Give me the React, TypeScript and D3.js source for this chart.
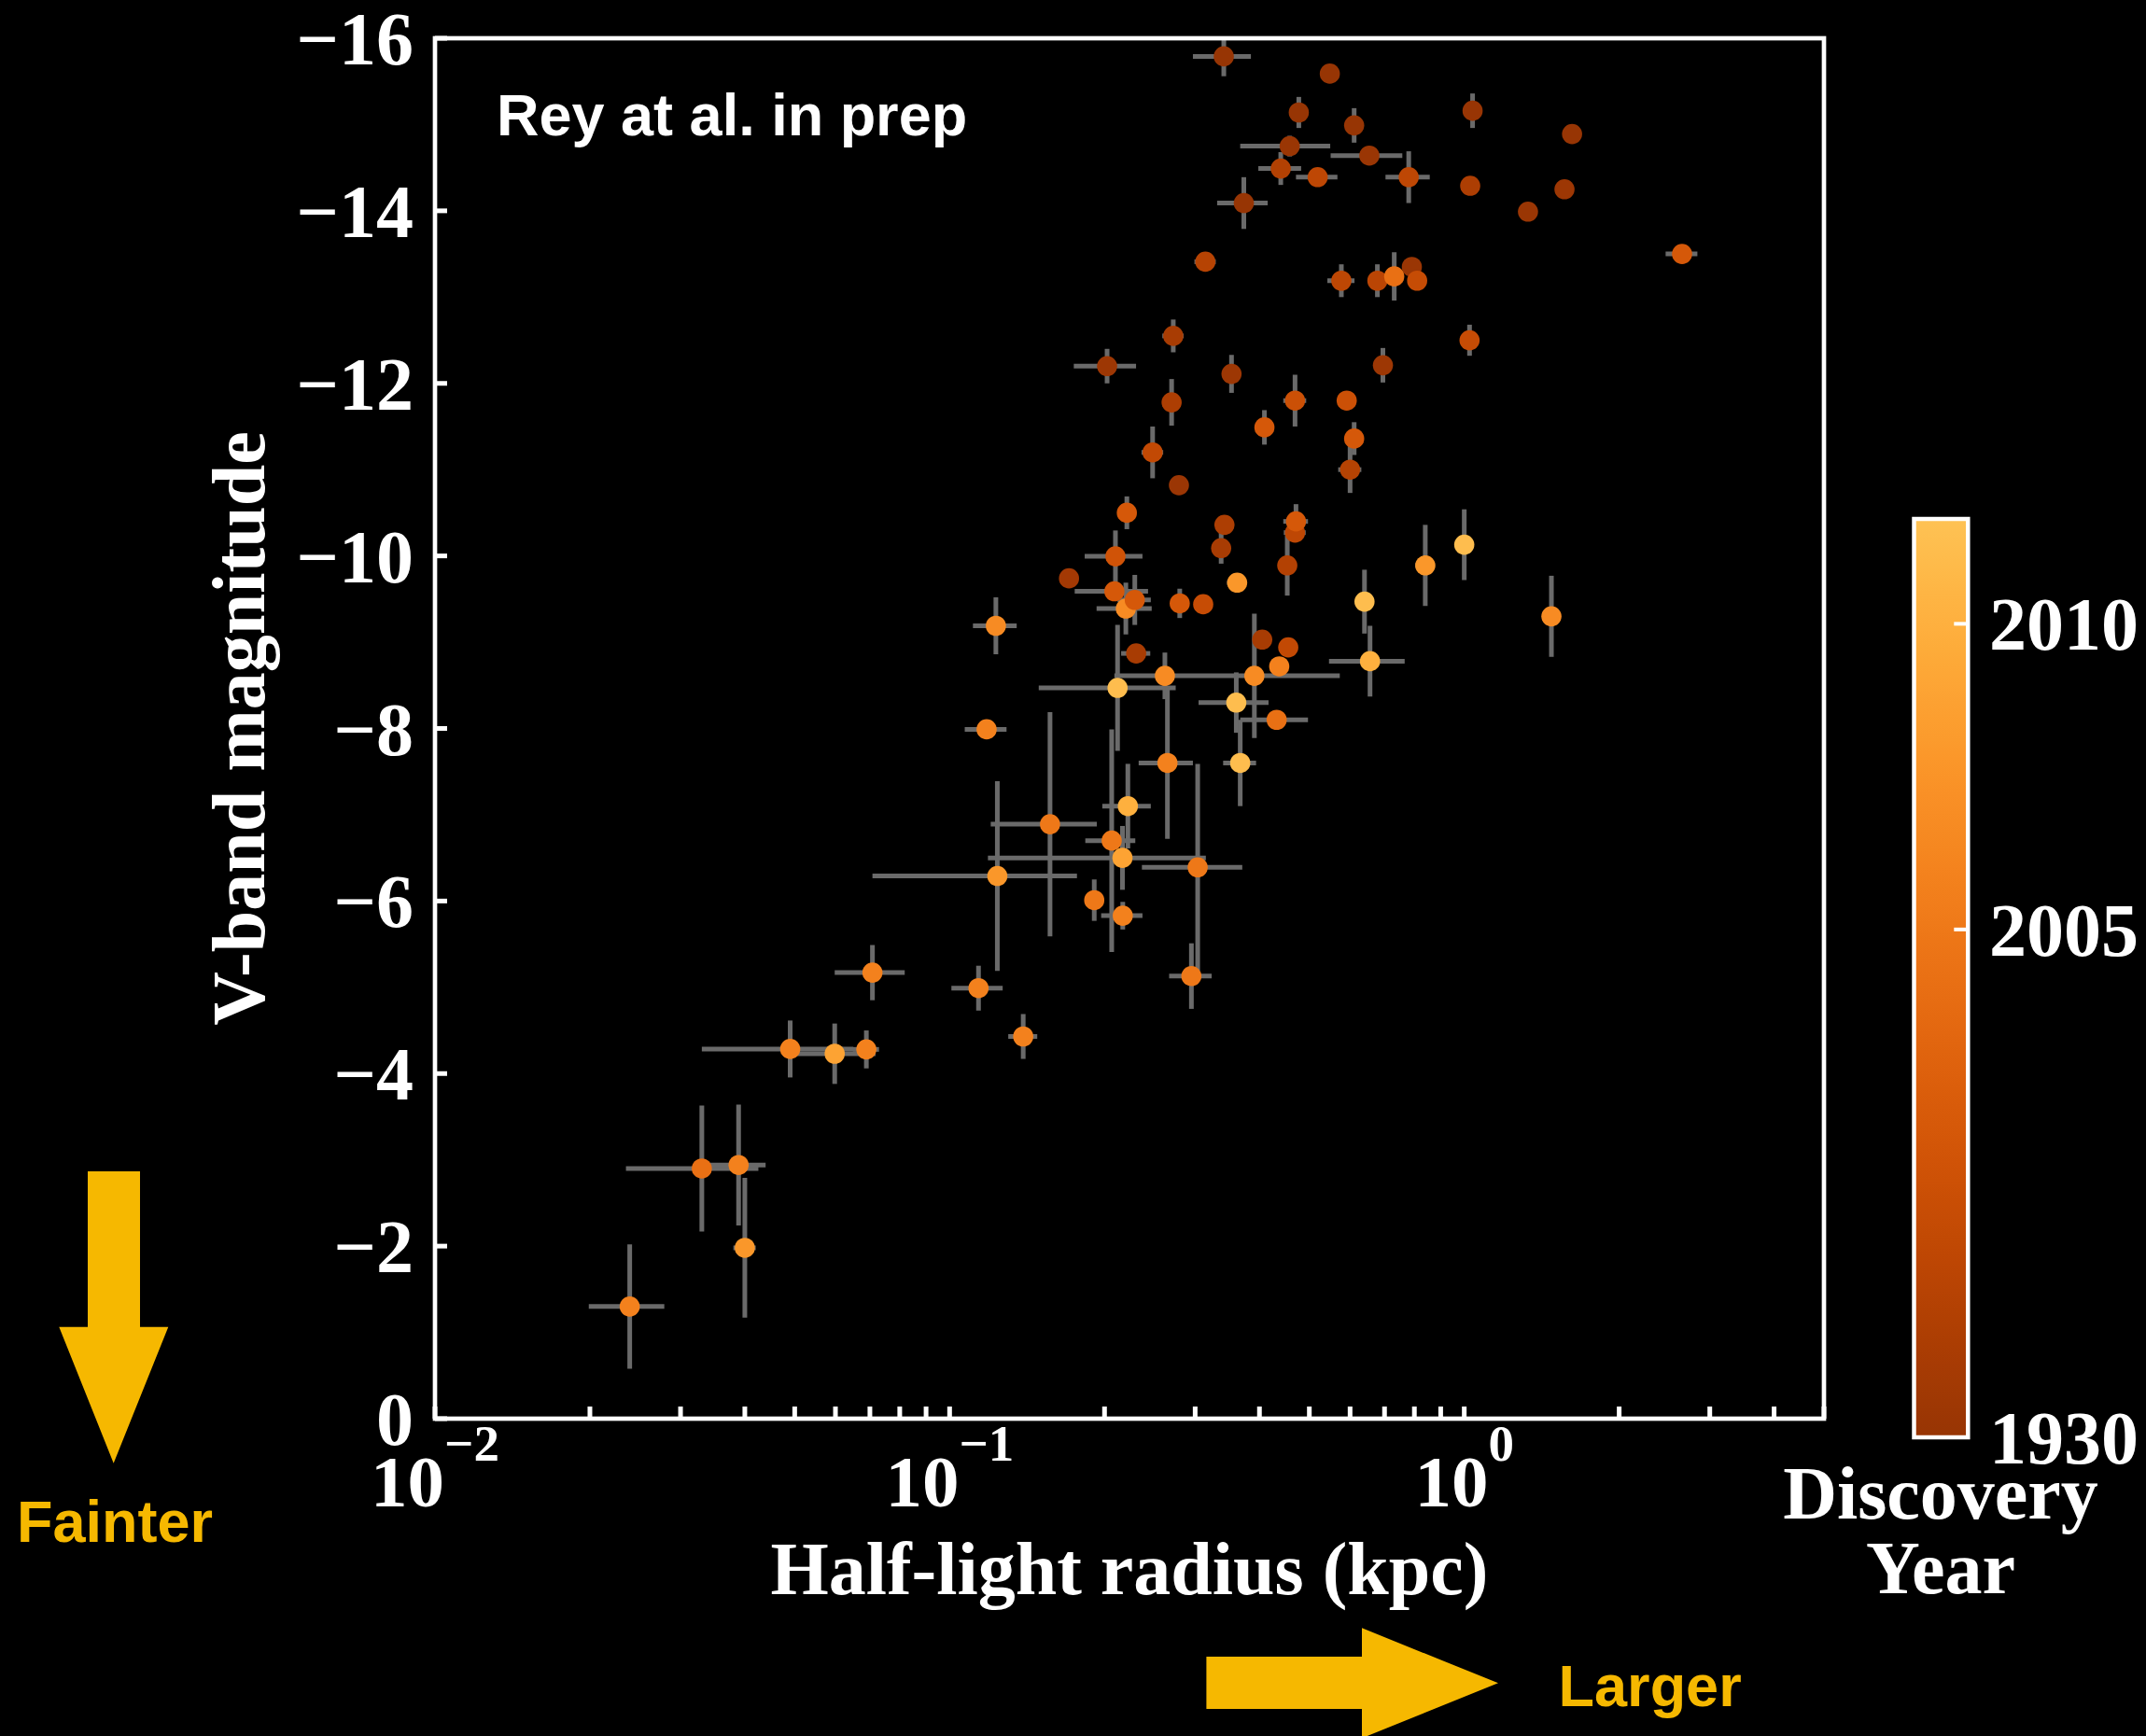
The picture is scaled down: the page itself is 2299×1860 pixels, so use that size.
import React from 'react';
import * as d3 from 'd3';

// ---------- data ----------
const radiusKpc = [0.341, 0.548, 0.477, 0.611, 1.038, 1.62, 0.458, 0.654, 0.44, 0.519, 0.78, 1.027, 1.566, 1.33, 0.373, 2.65, 0.314, 0.577, 0.678, 0.791, 0.731, 0.81, 0.272, 1.024, 0.353, 0.695, 0.2023, 0.27, 0.469, 0.591, 0.409, 0.611, 0.248, 0.6, 0.279, 0.221, 0.342, 0.469, 0.471, 0.337, 0.21, 0.453, 0.362, 0.84, 1.0, 0.64, 1.477, 0.28, 0.311, 0.22, 0.229, 0.209, 0.1706, 0.123, 0.2304, 0.212, 0.118, 0.262, 0.391, 0.437, 0.405, 0.455, 0.3606, 0.432, 0.656, 0.265, 0.367, 0.222, 0.2065, 0.2167, 0.3034, 0.295, 0.217, 0.191, 0.1567, 0.1238, 0.0708, 0.1138, 0.139, 0.049, 0.0598, 0.0689, 0.033, 0.0389, 0.04, 0.0239];
const radiusErr = [0.044, 0, 0.014, 0, 0.033, 0, 0.091, 0.104, 0.042, 0.048, 0.077, 0, 0.02, 0, 0.042, 0.188, 0.015, 0.035, 0, 0.01, 0, 0, 0.013, 0, 0.006, 0, 0.028, 0.006, 0.024, 0, 0.006, 0.008, 0.012, 0.031, 0.006, 0, 0, 0.023, 0.026, 0.008, 0.027, 0.008, 0.016, 0.037, 0.029, 0.023, 0, 0.008, 0, 0.027, 0.017, 0.034, 0.005, 0.012, 0.015, 0.063, 0.011, 0.01, 0.182, 0, 0.006, 0, 0.056, 0.065, 0.11, 0.032, 0.027, 0.024, 0.023, 0.098, 0.067, 0.028, 0.02, 0, 0.0365, 0.053, 0.011, 0.013, 0.009, 0.016, 0.012, 0.004, 0.0095, 0.005, 0.002, 0.004];
const vMagnitude = [-15.79, -15.59, -15.14, -14.99, -15.16, -14.89, -14.75, -14.64, -14.49, -14.39, -14.39, -14.29, -14.25, -13.99, -14.09, -13.5, -13.41, -13.19, -13.19, -13.35, -13.24, -13.19, -12.55, -12.5, -12.11, -12.21, -12.2, -11.78, -11.8, -11.8, -11.49, -11.36, -11.2, -11.0, -10.82, -10.5, -10.36, -10.27, -10.4, -10.09, -9.995, -9.89, -9.69, -9.89, -10.13, -9.47, -9.3, -9.45, -9.44, -9.39, -9.49, -9.59, -9.74, -9.19, -8.87, -8.47, -7.99, -8.61, -8.61, -8.72, -9.03, -8.94, -8.3, -8.1, -8.78, -7.6, -7.6, -7.1, -6.7, -6.5, -6.39, -5.13, -5.83, -6.01, -6.89, -6.29, -5.17, -4.99, -4.43, -4.285, -4.23, -4.28, -2.9, -2.94, -1.98, -1.3];
const vMagnitudeErr = [0.23, 0, 0.18, 0.2, 0.2, 0, 0.12, 0.1, 0.19, 0.08, 0.3, 0, 0.06, 0, 0.3, 0.07, 0, 0.19, 0.19, 0.05, 0.28, 0, 0.19, 0.18, 0.22, 0.2, 0.2, 0.27, 0.3, 0, 0.2, 0.19, 0.3, 0.27, 0.05, 0.19, 0, 0.1, 0.2, 0.18, 0.3, 0.35, 0, 0.47, 0.41, 0.37, 0.47, 0.17, 0, 0.3, 0.29, 0.1, 0, 0.33, 0.05, 0.73, 0, 0.27, 0.72, 0, 0.06, 0, 0.35, 0, 0.41, 0.88, 0.5, 0.49, 1.29, 0.37, 1.2, 0.38, 0.16, 0.24, 1.3, 1.1, 0.32, 0.26, 0.26, 0.33, 0.35, 0.22, 0.73, 0.7, 0.81, 0.72];
const discoveryYear = [1955, 1950, 1960, 1965, 1970, 1955, 1975, 1975, 1992, 1995, 1995, 1990, 1980, 1975, 1965, 2000, 1993, 1995, 1994, 1975, 2004, 1997, 1988, 1997, 1980, 1980, 1980, 1990, 1998, 1998, 2000, 2000, 1996, 1993, 1978, 2000, 1990, 1995, 2000, 1988, 1999, 1992, 2008, 2008, 2011, 2011, 2007, 2000, 1997, 2007, 2000, 2000, 1985, 2007, 1988, 2011, 2006, 2007, 2007, 2006, 1988, 1996, 2011, 2004, 2010, 2006, 2011, 2010, 2005, 2009, 2005, 2005, 2006, 2005, 2005, 2008, 2006, 2006, 2006, 2006, 2009, 2006, 2004, 2006, 2008, 2006];

const magnitudeTicks = [0, -2, -4, -6, -8, -10, -12, -14, -16];
const radiusDecades = [-2, -1, 0];
const yearTicks = [1930, 2005, 2010];

const W = 2299;
const H = 1860;
const PLOT = { left: 466, right: 1954, top: 41, bottom: 1520 };
const CB = { left: 2050.5, right: 2108.3, top: 556, bottom: 1540 };

const SERIF = "'Liberation Serif', 'Times New Roman', serif";
const SANS = "'Liberation Sans', Arial, Helvetica, sans-serif";
const ARROW = '#F6B800';

export default function App() {
  const x = d3.scaleLog().domain([0.01, 5]).range([PLOT.left, PLOT.right]);
  const y = d3.scaleLinear().domain([0, -16]).range([PLOT.bottom, PLOT.top]);
  // power-law normalisation of discovery year (gamma ~ 7.3)
  const norm = d3.scalePow().exponent(7.3).domain([0, 81.34]).range([0, 1]).clamp(true);
  const yearNorm = (yr: number) => norm(yr - 1930);
  const cmap = (v: number) => d3.interpolateYlOrBr(0.88 - 0.505 * v);
  const cbY = d3.scaleLinear().domain([0, 1]).range([CB.bottom, CB.top]);

  const idx = d3.range(radiusKpc.length);
  const xTicks = x.ticks();
  const gradStops = d3.range(0, 1.0001, 0.02);

  return (
    <svg width={W} height={H} style={{ position: 'absolute', left: 0, top: 0, background: '#000' }}>
      <defs>
        <linearGradient id="cbar" x1="0" y1="1" x2="0" y2="0">
          {gradStops.map((s) => (
            <stop key={s} offset={s} stopColor={cmap(s)} />
          ))}
        </linearGradient>
      </defs>
      <rect x={0} y={0} width={W} height={H} fill="#000" />

      {/* error bars */}
      <g stroke="#6a6a6a" strokeWidth={5}>
        {idx.map((i) => (
          <g key={'e' + i}>
            {radiusErr[i] > 0 && (
              <line x1={x(radiusKpc[i] - radiusErr[i])} x2={x(radiusKpc[i] + radiusErr[i])} y1={y(vMagnitude[i])} y2={y(vMagnitude[i])} />
            )}
            {vMagnitudeErr[i] > 0 && (
              <line x1={x(radiusKpc[i])} x2={x(radiusKpc[i])} y1={y(vMagnitude[i] - vMagnitudeErr[i])} y2={y(vMagnitude[i] + vMagnitudeErr[i])} />
            )}
          </g>
        ))}
      </g>

      {/* markers */}
      <g>
        {idx.map((i) => (
          <circle key={'m' + i} cx={x(radiusKpc[i])} cy={y(vMagnitude[i])} r={10.8} fill={cmap(yearNorm(discoveryYear[i]))} />
        ))}
      </g>

      {/* frame */}
      <rect x={PLOT.left} y={PLOT.top} width={PLOT.right - PLOT.left} height={PLOT.bottom - PLOT.top} fill="none" stroke="#fff" strokeWidth={4.7} />

      {/* ticks */}
      <g stroke="#fff" strokeWidth={5}>
        {magnitudeTicks.map((t) => (
          <line key={'yt' + t} x1={PLOT.left} x2={PLOT.left + 13} y1={y(t)} y2={y(t)} />
        ))}
        {xTicks.map((t) => (
          <line key={'xt' + t} x1={x(t)} x2={x(t)} y1={PLOT.bottom} y2={PLOT.bottom - 13} />
        ))}
      </g>
      <g fill="#fff" fontFamily={SERIF} fontWeight="bold" fontSize={80} textAnchor="end">
        {magnitudeTicks.map((t) => (
          <text key={'yl' + t} x={443} y={y(t) + 28}>
            {t === 0 ? '0' : '\u2212' + Math.abs(t)}
          </text>
        ))}
      </g>
      <g fill="#fff" fontFamily={SERIF} fontWeight="bold" textAnchor="middle">
        {radiusDecades.map((e) => (
          <text key={'xl' + e} x={x(Math.pow(10, e))} y={1614} fontSize={79}>
            10
            <tspan fontSize={55} dy={-49}>
              {e < 0 ? '\u2212' + Math.abs(e) : String(e)}
            </tspan>
          </text>
        ))}
      </g>

      {/* axis titles */}
      <text x={(PLOT.left + PLOT.right) / 2} y={1708} fill="#fff" fontFamily={SERIF} fontWeight="bold" fontSize={80} textAnchor="middle">
        Half-light radius (kpc)
      </text>
      <text transform={`translate(283, ${(PLOT.top + PLOT.bottom) / 2}) rotate(-90)`} fill="#fff" fontFamily={SERIF} fontWeight="bold" fontSize={80} textAnchor="middle">
        V-band magnitude
      </text>

      {/* annotation */}
      <text x={532} y={145} fill="#fff" fontFamily={SANS} fontWeight="bold" fontSize={63}>
        Rey at al. in prep
      </text>

      {/* colorbar */}
      <rect x={CB.left} y={CB.top} width={CB.right - CB.left} height={CB.bottom - CB.top} fill="url(#cbar)" stroke="#fff" strokeWidth={4.5} />
      <g stroke="#fff" strokeWidth={4}>
        {yearTicks.map((t) => (
          <line key={'ct' + t} x1={CB.right - 15} x2={CB.right} y1={cbY(yearNorm(t))} y2={cbY(yearNorm(t))} />
        ))}
      </g>
      <g fill="#fff" fontFamily={SERIF} fontWeight="bold" fontSize={80}>
        {yearTicks.map((t) => (
          <text key={'cl' + t} x={2131} y={cbY(yearNorm(t)) + 28}>
            {t}
          </text>
        ))}
      </g>
      <g fill="#fff" fontFamily={SERIF} fontWeight="bold" fontSize={80} textAnchor="middle">
        <text x={2079} y={1627}>Discovery</text>
        <text x={2079} y={1707}>Year</text>
      </g>

      {/* direction arrows */}
      <polygon
        points="94,1255 150,1255 150,1421.7 180.3,1421.7 121.7,1567.7 63.3,1421.7 94,1421.7"
        fill={ARROW}
      />
      <text x={18} y={1652} fill={ARROW} fontFamily={SANS} fontWeight="bold" fontSize={63}>
        Fainter
      </text>
      <polygon
        points="1292.4,1775 1459,1775 1459,1744.3 1605,1803.3 1459,1862.3 1459,1831 1292.4,1831"
        fill={ARROW}
      />
      <text x={1669.6} y={1828} fill={ARROW} fontFamily={SANS} fontWeight="bold" fontSize={63}>
        Larger
      </text>
    </svg>
  );
}
